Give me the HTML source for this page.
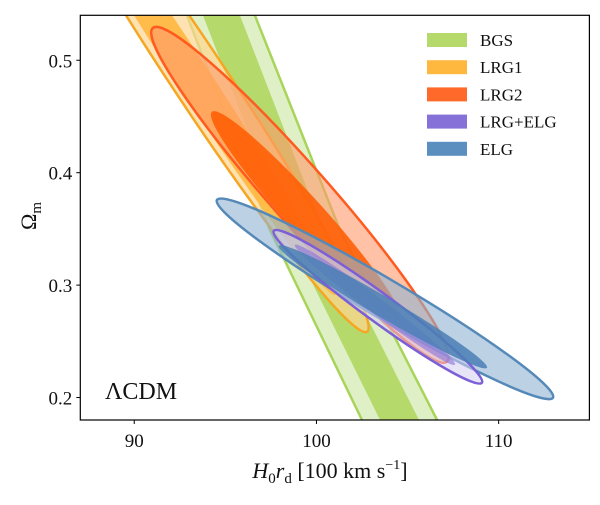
<!DOCTYPE html>
<html><head><meta charset="utf-8"><style>
body{margin:0;background:#fff}
svg text{font-family:"Liberation Serif",serif;fill:#111}
</style></head><body>
<svg id="chart" width="600" height="500" xmlns="http://www.w3.org/2000/svg">
<defs><clipPath id="plotclip"><rect x="80.3" y="15.3" width="509.1" height="404.7"/></clipPath></defs>
<g id="plot" clip-path="url(#plotclip)"></g>
<rect x="80.3" y="15.3" width="509.1" height="404.7" fill="none" stroke="#000" stroke-width="1.2"/>
<g id="axes"></g>
<text x="105" y="399" font-size="24">ΛCDM</text>
<text x="330" y="478" font-size="22" text-anchor="middle"><tspan font-style="italic">H</tspan><tspan font-size="15" dy="5">0</tspan><tspan font-style="italic" dy="-5">r</tspan><tspan font-size="15" dy="5">d</tspan><tspan dy="-5"> [100 km s</tspan><tspan font-size="14" dy="-9">−1</tspan><tspan dy="9">]</tspan></text>
<text transform="translate(36,216) rotate(-90)" font-size="22" text-anchor="middle">Ω<tspan font-size="15" dy="5">m</tspan></text>
<g id="legend"></g>
</svg>
<script>
const xTicks=[90,100,110];
const yTicks=[0.2,0.3,0.4,0.5];
const xDomain=[87.04,114.98];
const yDomain=[0.18,0.54];
// BGS band edges: [outerLeft, innerLeft, innerRight, outerRight] H0rd at Omega_m levels
const bgsOm=[0.54,0.3491,0.18];
const bgsOuterLeft=[92.89,97.45,102.50];
const bgsInnerLeft=[93.77,98.33,103.49];
const bgsInnerRight=[95.80,100.36,105.63];
const bgsOuterRight=[96.62,101.29,106.62];
// ellipse contours: [centerH, centerOm, tipH, tipOm, widthFrac]
const lrg1Outer=[93.61,0.4825,102.78,0.2585,0.09];
const lrg1Inner=[93.33,0.4825,101.02,0.2914,0.065];
const lrg2Outer=[99.09,0.3803,107.16,0.2319,0.13];
const lrg2Inner=[99.42,0.3616,104.58,0.2691,0.13];
const elgOuter=[103.76,0.2878,112.98,0.1998,0.10];
const elgInner=[103.65,0.2807,109.36,0.2265,0.085];
const lrgelgOuter=[103.37,0.2807,109.08,0.2131,0.11];
const lrgelgInner=[103.21,0.2825,107.60,0.2292,0.08];
const legendLabels=["BGS","LRG1","LRG2","LRG+ELG","ELG"];
const legendColors=["#b5d96a","#ffb83f","#ff6a2a","#8671d8","#5b8fbf"];

const L=80.3,R=589.4,T=15.3,B=420;
const sx=v=>L+(v-xDomain[0])/(xDomain[1]-xDomain[0])*(R-L);
const sy=v=>B-(v-yDomain[0])/(yDomain[1]-yDomain[0])*(B-T);
const NS="http://www.w3.org/2000/svg";
const plot=document.getElementById('plot');
const axes=document.getElementById('axes');
const legend=document.getElementById('legend');
function mk(tag,attrs,parent){const e=document.createElementNS(NS,tag);for(const k in attrs)e.setAttribute(k,attrs[k]);parent.appendChild(e);return e;}

function band(a,b,fill,name){
  let pts=[];
  for(let i=0;i<bgsOm.length;i++)pts.push(sx(a[i])+','+sy(bgsOm[i]));
  for(let i=bgsOm.length-1;i>=0;i--)pts.push(sx(b[i])+','+sy(bgsOm[i]));
  const p=mk('polygon',{points:pts.join(' '),fill:fill},plot);
  
  
}
band(bgsOuterLeft,bgsOuterRight,"#dff0c6","bgs-outer-contour");
band(bgsInnerLeft,bgsInnerRight,"#b5d96a","bgs-inner-contour");
[bgsOuterLeft,bgsOuterRight].forEach(function(a){
  const pts=bgsOm.map((o,i)=>sx(a[i])+','+sy(o)).join(' ');
  const l=mk('polyline',{points:pts,fill:'none',stroke:'#a8d45a','stroke-width':2.5},plot);
  
  
});

function ell(d,fill,stroke,op,name){
  const cx=sx(d[0]),cy=sy(d[1]),tx=sx(d[2]),ty=sy(d[3]);
  const len=Math.hypot(tx-cx,ty-cy),ang=Math.atan2(ty-cy,tx-cx)*180/Math.PI;
  const e=mk('ellipse',{cx:cx,cy:cy,rx:len,ry:len*d[4],transform:`rotate(${ang} ${cx} ${cy})`,fill:fill,'fill-opacity':op,stroke:stroke||'none','stroke-width':2.5},plot);
  
  
}
ell(lrg1Outer,"#ffd591","#f5a623",0.7,"lrg1-outer-contour");
ell(lrg1Inner,"#ffb83f",null,0.9,"lrg1-inner-contour");
ell(lrg2Outer,"#ff9a6a","#ff5a1f",0.6,"lrg2-outer-contour");
ell(lrg2Inner,"#ff5a00",null,0.85,"lrg2-inner-contour");
ell(elgOuter,"#8fb2d2","#5589b8",0.6,"elg-outer-contour");
ell(lrgelgOuter,"#d6cdf3","#7b5fd6",0.55,"lrgelg-outer-contour");
ell(lrgelgInner,"#8a72d8",null,0.6,"lrgelg-inner-contour");
ell(elgInner,"#4a7fb5",null,0.85,"elg-inner-contour");

xTicks.forEach(function(v){
  const x=sx(v);
  const t=mk('line',{x1:x,x2:x,y1:B,y2:B+4,stroke:'#000','stroke-width':1},axes);
  
  
  const s=mk('text',{x:x,y:B+27,'font-size':19,'text-anchor':'middle'},axes);
  s.textContent=v;
  
  
});
yTicks.forEach(function(v){
  const y=sy(v);
  const t=mk('line',{x1:L-4,x2:L,y1:y,y2:y,stroke:'#000','stroke-width':1},axes);
  
  
  const s=mk('text',{x:L-8,y:y+7,'font-size':19,'text-anchor':'end'},axes);
  s.textContent=v.toFixed(1);
  
  
});
legendLabels.forEach(function(lab,i){
  const y=33+i*27.2;
  const r=mk('rect',{x:427,y:y,width:40,height:14,fill:legendColors[i]},legend);
  
  
  const t=mk('text',{x:480,y:y+13,'font-size':17},legend);
  t.textContent=lab;
  
  
});
</script>
</body></html>
